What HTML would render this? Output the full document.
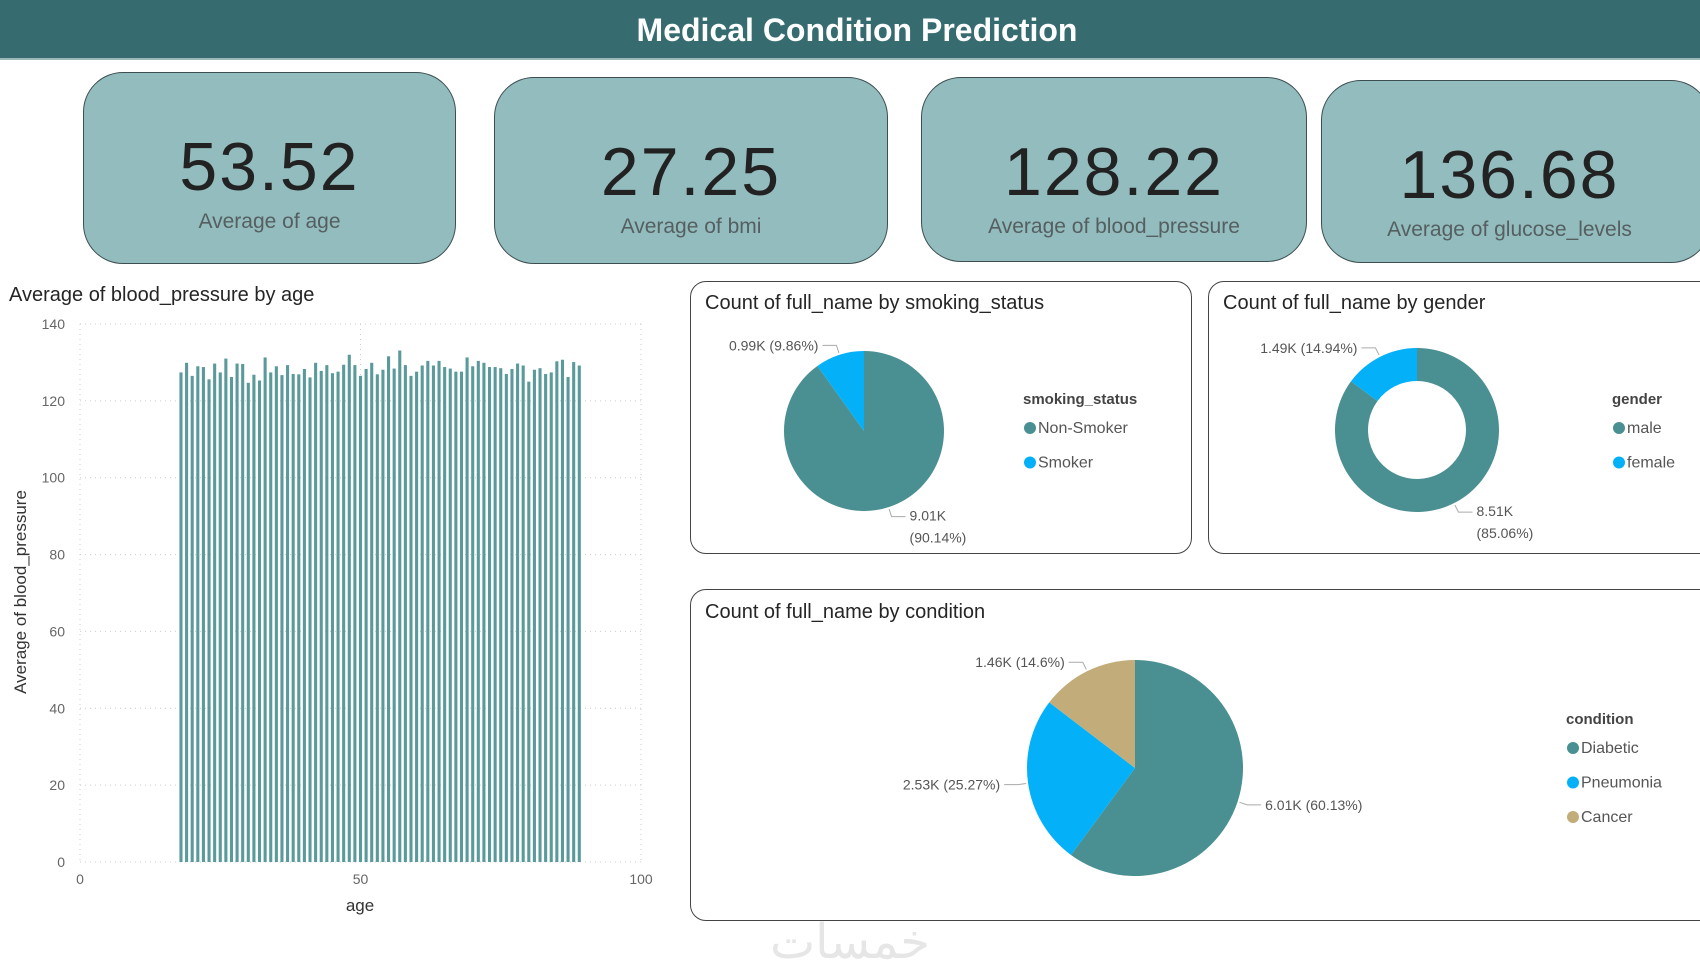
<!DOCTYPE html>
<html><head><meta charset="utf-8">
<style>
body{margin:0;width:1700px;height:970px;background:#fff;overflow:hidden;font-family:"Liberation Sans",sans-serif;position:relative}
.hdr{position:absolute;left:0;top:0;width:1700px;height:60px;background:#366b70;border-bottom:2px solid #9bb9bb;box-sizing:border-box}
.hdr span{position:absolute;left:0;width:1714px;top:12px;text-align:center;color:#fff;font-weight:bold;font-size:32px}
.card{position:absolute;background:#93bcbe;border:1.5px solid #3c4e50;border-radius:40px;box-sizing:border-box}
.card .v{position:absolute;left:0;right:0;top:55px;text-align:center;font-family:"Liberation Sans Narrow","Liberation Sans",sans-serif;font-size:68px;color:#222;letter-spacing:2px}
.card .l{position:absolute;left:0;right:0;top:137px;text-align:center;font-size:21px;color:#555f60}
.box{position:absolute;border:1.5px solid #444;border-radius:16px;box-sizing:border-box;background:#fff}
</style></head><body>
<div class="hdr"><span>Medical Condition Prediction</span></div>
<div class="card" style="left:83px;top:72px;width:373px;height:192px"><div class="v">53.52</div><div class="l">Average of age</div></div>
<div class="card" style="left:494px;top:77px;width:394px;height:187px"><div class="v">27.25</div><div class="l">Average of bmi</div></div>
<div class="card" style="left:921px;top:77px;width:386px;height:185px"><div class="v">128.22</div><div class="l">Average of blood_pressure</div></div>
<div class="card" style="left:1321px;top:80px;width:390px;height:183px"><div class="v" style="right:13px">136.68</div><div class="l" style="right:13px">Average of glucose_levels</div></div>
<div class="box" style="left:690px;top:281px;width:502px;height:273px"></div>
<div class="box" style="left:1208px;top:281px;width:510px;height:273px"></div>
<div class="box" style="left:690px;top:589px;width:1028px;height:332px"></div>
<svg id="s" width="1700" height="970" style="position:absolute;left:0;top:0"></svg>
<script>
const barValues=[127.4,129.9,126.5,129,128.8,125.6,129.7,127.4,131,126.2,129.7,129.6,124.7,126.8,125.3,131.3,127.4,129,126.7,129.3,127,126.9,128.3,126.1,129.9,127.8,129.3,127.2,127.6,129.4,132,129.3,126.5,128.3,129.9,126.9,128.1,131.6,128.4,133.1,129.3,126.5,127.6,129.2,130.4,129.2,130.4,128.8,128.4,127.6,127.6,131.3,129,130.4,129.9,128.8,128.8,128.5,127,128.3,129.7,129.2,125,128.1,128.5,127,127.4,130.3,130.7,126.2,130.1,129.2];
const firstAge=18;
const yTicks=[0,20,40,60,80,100,120,140];
const xTicks=[0,50,100];
const smokingCats=["Non-Smoker","Smoker"];
const smokingVals=[9.01,0.99];
const smokingPct=["90.14%","9.86%"];
const genderCats=["male","female"];
const genderVals=[8.51,1.49];
const genderPct=["85.06%","14.94%"];
const condCats=["Diabetic","Pneumonia","Cancer"];
const condVals=[6.01,2.53,1.46];
const condPct=["60.13%","25.27%","14.6%"];

const S=document.getElementById('s');const NS='http://www.w3.org/2000/svg';
function el(t,a,txt){const e=document.createElementNS(NS,t);for(const k in a)e.setAttribute(k,a[k]);if(txt!==undefined)e.textContent=txt;S.appendChild(e);return e;}
const X0=80,X1=641,Y0=862,Y1=324;
const xs=v=>X0+(X1-X0)*v/100, ys=v=>Y0-(Y0-Y1)*v/140;
let t=el('text',{x:9,y:301,'font-size':20,fill:'#252525'},'Average of blood_pressure by age');

yTicks.forEach(v=>{const g=el('line',{x1:X0,x2:X1,y1:ys(v),y2:ys(v),stroke:'#ccc','stroke-dasharray':'1 4'});

const l=el('text',{x:65,y:ys(v)+5,'font-size':14,fill:'#666','text-anchor':'end'},v);
});
xTicks.forEach(v=>{const g=el('line',{x1:xs(v),x2:xs(v),y1:Y1,y2:Y0,stroke:'#ccc','stroke-dasharray':'1 4'});

const l=el('text',{x:xs(v),y:884,'font-size':14,fill:'#666','text-anchor':'middle'},v);
});
const bw=(xs(1)-xs(0))*0.55;
barValues.forEach((v,i)=>{const a=firstAge+i;const b=el('rect',{x:xs(a)-bw/2,y:ys(v),width:bw,height:ys(0)-ys(v),fill:'#5a9a9b'});
});
t=el('text',{x:360,y:911,'font-size':17,fill:'#333','text-anchor':'middle'},'age');

t=el('text',{x:0,y:0,'font-size':17,fill:'#333','text-anchor':'middle',transform:'translate(26,592) rotate(-90)'},'Average of blood_pressure');


function pie(cx,cy,r,ri,cats,vals,pcts,colors,name,title,tx,ty,lx,ly,labelFn){
  const tt=el('text',{x:tx,y:ty,'font-size':20,fill:'#252525'},title);
  
  const tot=vals.reduce((a,b)=>a+b,0);let a0=0;
  vals.forEach((v,i)=>{const a1=a0+v/tot*2*Math.PI;
    const p=(a,rr)=>[cx+rr*Math.sin(a),cy-rr*Math.cos(a)];
    const [x0,y0]=p(a0,r),[x1,y1]=p(a1,r),lg=(a1-a0)>Math.PI?1:0;
    let d;
    if(ri>0){const [x2,y2]=p(a1,ri),[x3,y3]=p(a0,ri);d=`M${x0},${y0}A${r},${r} 0 ${lg} 1 ${x1},${y1}L${x2},${y2}A${ri},${ri} 0 ${lg} 0 ${x3},${y3}Z`;}
    else d=`M${cx},${cy}L${x0},${y0}A${r},${r} 0 ${lg} 1 ${x1},${y1}Z`;
    const s=el('path',{d:d,fill:colors[i]});
    
    const am=(a0+a1)/2;const [ax,ay]=p(am,r+2),[bx,by]=p(am,r+10);const right=Math.sin(am)>=0;
    const ex=bx+(right?14:-14);
    const ln=el('polyline',{points:`${ax},${ay} ${bx},${by} ${ex},${by}`,fill:'none',stroke:'#aaa','stroke-width':1});
    
    labelFn(i,v,pcts[i],right,ex,by);
    a0=a1;});
  const lt=el('text',{x:lx,y:ly,'font-size':15,'font-weight':'bold',fill:'#444'},name==='condition'?'condition':(name==='smoking'?'smoking_status':'gender'));
  
  cats.forEach((c,i)=>{const y=ly+29+i*34.5;
    const d=el('circle',{cx:lx+7,cy:y-5,r:6,fill:colors[i]});
    const e=el('text',{x:lx+15,y:y,'font-size':16,fill:'#555'},c);});
}
function lab(name,twoLineRight){return (i,v,p,right,ex,ey)=>{
  const txt=v.toFixed(2)+'K ('+p+')';
  if(right&&twoLineRight){const a=el('text',{x:ex+4,y:ey+4,'font-size':14,fill:'#555'},v.toFixed(2)+'K');
    
    const b=el('text',{x:ex+4,y:ey+26,'font-size':14,fill:'#555'},'('+p+')');
    }
  else{const a=el('text',{x:right?ex+4:ex-4,y:ey+5,'font-size':14,fill:'#555','text-anchor':right?'start':'end'},txt);
    }
};}
pie(864,431,80,0,smokingCats,smokingVals,smokingPct,['#4a8f91','#04b1f8'],'smoking','Count of full_name by smoking_status',705,309,1023,404,lab('smoking',true));
pie(1417,430,82,49,genderCats,genderVals,genderPct,['#4a8f91','#04b1f8'],'gender','Count of full_name by gender',1223,309,1612,404,lab('gender',true));
pie(1135,768,108,0,condCats,condVals,condPct,['#4a8f91','#04b1f8','#c2ad7a'],'condition','Count of full_name by condition',705,618,1566,724,lab('condition',false));
t=el('text',{x:850,y:958,'font-size':48,fill:'#e6e6e6','text-anchor':'middle','font-family':'"DejaVu Sans",sans-serif'},'خمسات');

</script>
</body></html>
